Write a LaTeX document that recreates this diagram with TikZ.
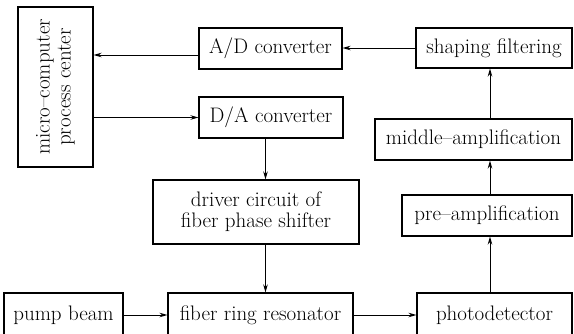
\documentclass[tikz,border=0pt]{standalone}
\usepackage{tikz}
\usetikzlibrary{arrows.meta}

\tikzset{
  blk/.style={draw, line width=1.1pt, inner sep=0pt, align=center,
    font=\fontsize{21}{22}\selectfont},
  conn/.style={line width=1pt, -{Stealth[length=8pt,width=4.5pt]}}
}

\begin{document}
\begin{tikzpicture}[x=1pt,y=-1pt]
    \useasboundingbox (0,0) rectangle (574,333);
    \clip (0,0) rectangle (574,333);
    % controller column
    \node[blk, rotate=90, minimum width=160pt, minimum height=75pt] (micro) at (55.5,87) {micro--computer\\[-1pt]process center};
    \node[blk, minimum width=143pt, minimum height=41pt] (ad) at (270.5,48.5) {A/D converter};
    \node[blk, minimum width=144pt, minimum height=41pt] (da) at (271,117.5) {D/A converter};
    \node[blk, minimum width=206pt, minimum height=64pt] (driver) at (256,212) {driver circuit of\\[-1pt]fiber phase shifter};
    % amplifier chain
    \node[blk, minimum width=156pt, minimum height=40pt] (shaping) at (494,48) {shaping filtering};
    \node[blk, minimum width=197pt, minimum height=41pt] (middle) at (473.5,139.5) {middle--amplification};
    \node[blk, minimum width=170pt, minimum height=41pt] (pre) at (487,215.5) {pre--amplification};
    % optical path
    \node[blk, minimum width=119pt, minimum height=44pt] (pump) at (63.5,315) {pump beam};
    \node[blk, minimum width=185pt, minimum height=44pt] (fiber) at (260.5,315) {fiber ring resonator};
    \node[blk, minimum width=155pt, minimum height=44pt] (photo) at (494.5,315) {photodetector};
    \coordinate (lcol) at (265.5,0);
    \coordinate (rcol) at (490,0);

    \draw[conn] (pump) -- (fiber);
    \draw[conn] (fiber) -- (photo);
    \draw[conn] (photo.north -| rcol) -- (pre.south -| rcol);
    \draw[conn] (pre.north -| rcol) -- (middle.south -| rcol);
    \draw[conn] (middle.north -| rcol) -- (shaping.south -| rcol);
    \draw[conn] (shaping.west) -- (shaping.west -| ad.east);
    \draw[conn] ([yshift=-6.5pt]ad.west) -- ([yshift=-6.5pt]ad.west -| micro.south);
    \draw[conn] (da.west -| micro.south) -- (da.west);
    \draw[conn] (da.south -| lcol) -- (driver.north -| lcol);
    \draw[conn] (driver.south -| lcol) -- (fiber.north -| lcol);
\end{tikzpicture}
\end{document}
